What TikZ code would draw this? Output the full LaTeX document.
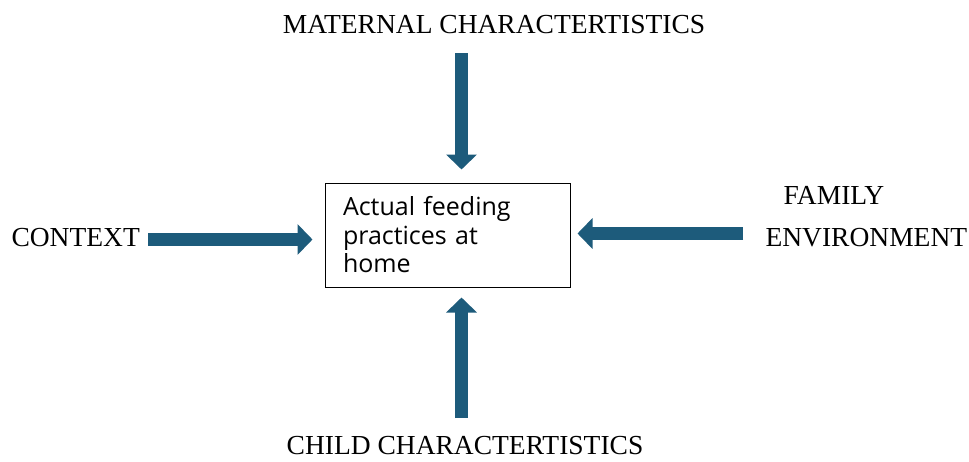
\documentclass[tikz,border=0pt]{standalone}
\usepackage{fontspec}
\setmainfont{Liberation Serif}
\newfontfamily\boxfont{Open Sans}
\usetikzlibrary{arrows.meta}
\definecolor{arrowblue}{HTML}{1D5B7B}
\tikzset{
  label text/.style={font=\fontsize{27.5}{31}\selectfont},
  feed box/.style={draw, line width=1pt, minimum width=245pt, minimum height=104pt,
    text width=209pt, inner xsep=18pt, align=left,
    font=\boxfont\fontsize{25}{28.5}\selectfont},
  fat arrow/.style={draw=arrowblue, line width=13pt,
    -{Triangle[width=30pt,length=15pt]}},
}
\begin{document}
\begin{tikzpicture}[x=1pt,y=-1pt]
  \useasboundingbox (0,0) rectangle (969,461);
  \node[feed box] (home) at (447.5,235) {Actual feeding\\practices at\\home};
  \node[label text] (maternal) at (494,25) {MATERNAL CHARACTERTISTICS};
  \node[label text,anchor=west] (context) at (8,238) {CONTEXT};
  \node[label text] (family) at (834,195) {FAMILY};
  \node[label text,anchor=west] (environment) at (762,238) {ENVIRONMENT};
  \node[label text] (child) at (465,446) {CHILD CHARACTERTISTICS};
  \coordinate (top tail) at (461.5,53);
  \coordinate (left tail) at (148,239.5);
  \coordinate (right tail) at (743,233.5);
  \coordinate (bottom tail) at (461.5,418);
  \begin{scope}[fat arrow]
    \draw (top tail) -- ([yshift=13pt]top tail |- home.north);
    \draw (left tail) -- ([xshift=-12pt]home.west |- left tail);
    \draw (right tail) -- ([xshift=7pt]home.east |- right tail);
    \draw (bottom tail) -- ([yshift=-10pt]bottom tail |- home.south);
  \end{scope}
\end{tikzpicture}
\end{document}
